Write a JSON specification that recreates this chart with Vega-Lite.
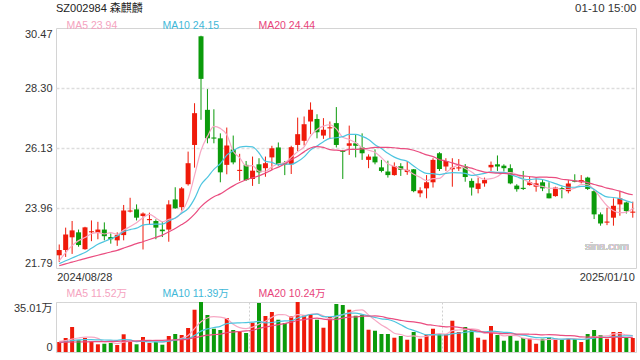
{
"$schema": "https://vega.github.io/schema/vega-lite/v6.json",
"padding": {"left": 12, "top": 2, "right": 4, "bottom": 0},
"background": "white",
"config": {"font": "Liberation Sans, Noto Sans CJK SC", "view": {"stroke": "#d4d4d4"}, "axis": {"labelFont": "Liberation Sans, Noto Sans CJK SC", "labelColor": "#333333", "labelFontSize": 11}},
"title": {"text": "01-10 15:00", "anchor": "end", "offset": -12, "fontSize": 11.5, "fontWeight": "normal", "color": "#333333", "font": "Liberation Sans"},
"resolve": {"scale": {"x": "independent", "y": "independent", "color": "independent"}},
"spacing": 5,
"datasets": {"k": [
{"d":"2024/08/28","o":22.25,"h":22.64,"l":22.01,"c":22.44,"v":7.0,"m5":22.05,"m10":21.95,"m20":21.87,"vm5":7.5,"vm10":6.5,"vm20":6.8},
{"d":"2024/08/29","o":22.44,"h":23.25,"l":22.19,"c":23.00,"v":9.8,"m5":22.35,"m10":22.05,"m20":21.94,"vm5":8.0,"vm10":7.2,"vm20":6.9},
{"d":"2024/08/30","o":22.90,"h":23.49,"l":22.30,"c":23.15,"v":17.5,"m5":22.60,"m10":22.15,"m20":22.00,"vm5":9.0,"vm10":8.0,"vm20":7.0},
{"d":"2024/09/02","o":23.08,"h":23.18,"l":22.56,"c":22.62,"v":8.2,"m5":22.78,"m10":22.25,"m20":22.07,"vm5":9.8,"vm10":8.5,"vm20":7.0},
{"d":"2024/09/03","o":22.47,"h":23.28,"l":22.45,"c":23.26,"v":9.8,"m5":22.89,"m10":22.35,"m20":22.13,"vm5":10.46,"vm10":8.6,"vm20":7.1},
{"d":"2024/09/04","o":23.08,"h":23.51,"l":22.76,"c":23.12,"v":7.0,"m5":23.03,"m10":22.50,"m20":22.19,"vm5":10.46,"vm10":8.6,"vm20":7.2},
{"d":"2024/09/05","o":23.06,"h":23.46,"l":22.83,"c":23.18,"v":5.4,"m5":23.07,"m10":22.65,"m20":22.25,"vm5":9.58,"vm10":8.5,"vm20":7.2},
{"d":"2024/09/06","o":23.18,"h":23.44,"l":22.79,"c":22.94,"v":5.8,"m5":23.02,"m10":22.75,"m20":22.31,"vm5":7.24,"vm10":8.4,"vm20":7.3},
{"d":"2024/09/09","o":22.91,"h":23.04,"l":22.67,"c":22.83,"v":6.3,"m5":23.07,"m10":22.85,"m20":22.37,"vm5":6.86,"vm10":8.3,"vm20":7.4},
{"d":"2024/09/10","o":22.79,"h":23.08,"l":22.59,"c":22.98,"v":4.9,"m5":23.01,"m10":22.95,"m20":22.43,"vm5":5.88,"vm10":8.17,"vm20":7.5},
{"d":"2024/09/11","o":22.98,"h":24.07,"l":22.79,"c":23.87,"v":12.4,"m5":23.16,"m10":23.10,"m20":22.51,"vm5":6.96,"vm10":8.71,"vm20":7.6},
{"d":"2024/09/12","o":23.83,"h":24.33,"l":23.80,"c":23.87,"v":7.5,"m5":23.29,"m10":23.18,"m20":22.59,"vm5":7.38,"vm10":8.48,"vm20":7.7},
{"d":"2024/09/13","o":23.91,"h":24.09,"l":23.51,"c":23.61,"v":5.4,"m5":23.43,"m10":23.23,"m20":22.67,"vm5":7.30,"vm10":7.27,"vm20":7.8},
{"d":"2024/09/18","o":23.67,"h":23.80,"l":22.46,"c":23.76,"v":10.5,"m5":23.61,"m10":23.34,"m20":22.74,"vm5":8.14,"vm10":7.50,"vm20":7.9},
{"d":"2024/09/19","o":23.52,"h":23.79,"l":23.37,"c":23.56,"v":6.3,"m5":23.73,"m10":23.37,"m20":22.82,"vm5":8.42,"vm10":7.15,"vm20":8.0},
{"d":"2024/09/20","o":23.49,"h":23.55,"l":22.83,"c":23.25,"v":7.0,"m5":23.60,"m10":23.38,"m20":22.90,"vm5":7.34,"vm10":7.15,"vm20":8.1},
{"d":"2024/09/23","o":23.18,"h":23.46,"l":22.91,"c":23.12,"v":5.1,"m5":23.46,"m10":23.38,"m20":22.98,"vm5":6.86,"vm10":7.12,"vm20":8.2},
{"d":"2024/09/24","o":23.18,"h":24.24,"l":22.74,"c":24.09,"v":11.2,"m5":23.55,"m10":23.49,"m20":23.10,"vm5":8.02,"vm10":7.66,"vm20":8.3},
{"d":"2024/09/25","o":24.27,"h":24.71,"l":23.93,"c":23.95,"v":12.6,"m5":23.59,"m10":23.60,"m20":23.22,"vm5":8.44,"vm10":8.29,"vm20":8.45},
{"d":"2024/09/26","o":23.99,"h":24.72,"l":23.87,"c":24.67,"v":11.9,"m5":23.82,"m10":23.77,"m20":23.36,"vm5":9.56,"vm10":8.99,"vm20":8.58},
{"d":"2024/09/27","o":24.82,"h":26.00,"l":24.77,"c":25.58,"v":16.8,"m5":24.28,"m10":23.94,"m20":23.52,"vm5":11.52,"vm10":9.43,"vm20":9.07},
{"d":"2024/09/30","o":26.24,"h":27.75,"l":25.42,"c":27.39,"v":29.6,"m5":25.14,"m10":24.30,"m20":23.74,"vm5":16.42,"vm10":11.64,"vm20":10.06},
{"d":"2024/10/08","o":30.17,"h":30.19,"l":27.15,"c":28.63,"v":35.0,"m5":26.04,"m10":24.80,"m20":24.01,"vm5":21.18,"vm10":14.60,"vm20":10.94},
{"d":"2024/10/09","o":27.51,"h":28.26,"l":26.30,"c":26.48,"v":25.9,"m5":26.55,"m10":25.07,"m20":24.21,"vm5":23.84,"vm10":16.14,"vm20":11.82},
{"d":"2024/10/10","o":26.51,"h":27.53,"l":26.30,"c":26.47,"v":16.3,"m5":26.91,"m10":25.36,"m20":24.37,"vm5":24.72,"vm10":17.14,"vm20":12.15},
{"d":"2024/10/11","o":26.48,"h":26.66,"l":24.89,"c":25.25,"v":15.4,"m5":26.84,"m10":25.56,"m20":24.47,"vm5":24.44,"vm10":17.98,"vm20":12.57},
{"d":"2024/10/14","o":25.52,"h":26.87,"l":25.18,"c":26.22,"v":23.8,"m5":26.61,"m10":25.87,"m20":24.62,"vm5":23.28,"vm10":19.85,"vm20":13.49},
{"d":"2024/10/15","o":26.08,"h":26.58,"l":25.54,"c":25.61,"v":15.4,"m5":26.01,"m10":26.03,"m20":24.76,"vm5":19.36,"vm10":20.27,"vm20":13.97},
{"d":"2024/10/16","o":25.30,"h":25.92,"l":24.94,"c":25.34,"v":14.2,"m5":25.78,"m10":26.16,"m20":24.88,"vm5":17.02,"vm10":20.43,"vm20":14.36},
{"d":"2024/10/17","o":25.52,"h":25.66,"l":24.94,"c":24.97,"v":13.3,"m5":25.48,"m10":26.19,"m20":24.98,"vm5":16.42,"vm10":20.57,"vm20":14.78},
{"d":"2024/10/18","o":25.01,"h":25.82,"l":24.76,"c":25.31,"v":20.5,"m5":25.49,"m10":26.17,"m20":25.05,"vm5":17.44,"vm10":20.94,"vm20":15.19},
{"d":"2024/10/21","o":25.54,"h":25.76,"l":24.83,"c":25.25,"v":34.3,"m5":25.29,"m10":25.95,"m20":25.12,"vm5":19.54,"vm10":21.41,"vm20":16.53},
{"d":"2024/10/22","o":25.40,"h":25.82,"l":25.09,"c":25.58,"v":25.2,"m5":25.29,"m10":25.65,"m20":25.22,"vm5":21.50,"vm10":20.43,"vm20":17.52},
{"d":"2024/10/23","o":25.79,"h":26.21,"l":25.34,"c":26.12,"v":28.0,"m5":25.45,"m10":25.61,"m20":25.34,"vm5":24.26,"vm10":20.64,"vm20":18.39},
{"d":"2024/10/24","o":26.15,"h":26.33,"l":25.49,"c":25.54,"v":22.6,"m5":25.56,"m10":25.52,"m20":25.44,"vm5":26.12,"vm10":21.27,"vm20":19.21},
{"d":"2024/10/25","o":25.58,"h":25.66,"l":25.15,"c":25.53,"v":20.3,"m5":25.60,"m10":25.55,"m20":25.55,"vm5":26.08,"vm10":21.76,"vm20":19.87},
{"d":"2024/10/28","o":25.54,"h":26.21,"l":25.19,"c":26.16,"v":25.0,"m5":25.79,"m10":25.54,"m20":25.71,"vm5":24.22,"vm10":21.88,"vm20":20.87},
{"d":"2024/10/29","o":26.24,"h":27.23,"l":26.02,"c":26.63,"v":35.0,"m5":26.00,"m10":25.64,"m20":25.83,"vm5":26.18,"vm10":23.84,"vm20":22.06},
{"d":"2024/10/30","o":26.39,"h":27.27,"l":26.22,"c":26.99,"v":25.7,"m5":26.17,"m10":25.81,"m20":25.99,"vm5":25.72,"vm10":24.99,"vm20":22.71},
{"d":"2024/10/31","o":27.09,"h":27.78,"l":26.63,"c":27.51,"v":26.1,"m5":26.56,"m10":26.06,"m20":26.13,"vm5":26.42,"vm10":26.27,"vm20":23.42},
{"d":"2024/11/01","o":27.18,"h":27.35,"l":26.48,"c":26.70,"v":22.6,"m5":26.80,"m10":26.20,"m20":26.18,"vm5":26.88,"vm10":26.48,"vm20":23.71},
{"d":"2024/11/04","o":26.58,"h":27.21,"l":26.46,"c":26.79,"v":17.0,"m5":26.92,"m10":26.36,"m20":26.15,"vm5":25.28,"vm10":24.75,"vm20":23.08},
{"d":"2024/11/05","o":26.84,"h":27.09,"l":26.48,"c":26.88,"v":24.5,"m5":26.97,"m10":26.48,"m20":26.07,"vm5":23.18,"vm10":24.68,"vm20":22.56},
{"d":"2024/11/06","o":27.03,"h":27.61,"l":26.15,"c":26.24,"v":33.6,"m5":26.82,"m10":26.50,"m20":26.05,"vm5":24.76,"vm10":25.24,"vm20":22.94},
{"d":"2024/11/07","o":26.03,"h":26.06,"l":25.01,"c":25.99,"v":32.9,"m5":26.52,"m10":26.54,"m20":26.03,"vm5":26.12,"vm10":26.27,"vm20":23.77},
{"d":"2024/11/08","o":26.21,"h":26.94,"l":25.88,"c":26.30,"v":29.6,"m5":26.44,"m10":26.62,"m20":26.08,"vm5":27.52,"vm10":27.20,"vm20":24.48},
{"d":"2024/11/11","o":26.30,"h":26.60,"l":25.79,"c":26.21,"v":25.4,"m5":26.32,"m10":26.62,"m20":26.08,"vm5":29.20,"vm10":27.24,"vm20":24.56},
{"d":"2024/11/12","o":26.15,"h":26.66,"l":25.70,"c":25.94,"v":26.1,"m5":26.14,"m10":26.55,"m20":26.10,"vm5":29.52,"vm10":26.35,"vm20":25.10},
{"d":"2024/11/13","o":25.70,"h":25.90,"l":25.40,"c":25.82,"v":15.6,"m5":26.05,"m10":26.44,"m20":26.12,"vm5":25.92,"vm10":25.34,"vm20":25.17},
{"d":"2024/11/14","o":25.82,"h":26.08,"l":25.54,"c":25.61,"v":14.9,"m5":25.98,"m10":26.25,"m20":26.15,"vm5":22.32,"vm10":24.22,"vm20":25.25},
{"d":"2024/11/15","o":25.43,"h":25.70,"l":25.25,"c":25.30,"v":12.6,"m5":25.78,"m10":26.11,"m20":26.15,"vm5":18.92,"vm10":23.22,"vm20":24.85},
{"d":"2024/11/18","o":25.28,"h":25.67,"l":25.06,"c":25.15,"v":12.6,"m5":25.56,"m10":25.94,"m20":26.15,"vm5":16.36,"vm10":22.78,"vm20":23.77},
{"d":"2024/11/19","o":25.15,"h":25.61,"l":25.13,"c":25.48,"v":10.0,"m5":25.47,"m10":25.80,"m20":26.14,"vm5":13.14,"vm10":21.33,"vm20":23.01},
{"d":"2024/11/20","o":25.47,"h":25.58,"l":25.12,"c":25.34,"v":11.2,"m5":25.38,"m10":25.71,"m20":26.11,"vm5":12.26,"vm10":19.09,"vm20":22.17},
{"d":"2024/11/21","o":25.26,"h":25.66,"l":25.16,"c":25.34,"v":8.6,"m5":25.32,"m10":25.65,"m20":26.10,"vm5":11.00,"vm10":16.66,"vm20":21.47},
{"d":"2024/11/22","o":25.36,"h":25.37,"l":24.53,"c":24.57,"v":14.0,"m5":25.18,"m10":25.48,"m20":26.05,"vm5":11.28,"vm10":15.10,"vm20":21.15},
{"d":"2024/11/25","o":24.49,"h":24.71,"l":24.35,"c":24.60,"v":9.3,"m5":25.07,"m10":25.32,"m20":25.97,"vm5":10.62,"vm10":13.49,"vm20":20.37},
{"d":"2024/11/26","o":24.67,"h":25.15,"l":24.31,"c":24.89,"v":12.1,"m5":24.95,"m10":25.21,"m20":25.88,"vm5":11.04,"vm10":12.09,"vm20":19.22},
{"d":"2024/11/27","o":24.89,"h":25.76,"l":24.70,"c":25.70,"v":16.3,"m5":25.02,"m10":25.20,"m20":25.82,"vm5":12.06,"vm10":12.16,"vm20":18.75},
{"d":"2024/11/28","o":25.94,"h":25.98,"l":25.30,"c":25.37,"v":12.4,"m5":25.03,"m10":25.17,"m20":25.71,"vm5":12.82,"vm10":11.91,"vm20":18.07},
{"d":"2024/11/29","o":25.46,"h":25.76,"l":25.30,"c":25.66,"v":12.4,"m5":25.24,"m10":25.21,"m20":25.66,"vm5":12.50,"vm10":11.89,"vm20":17.56},
{"d":"2024/12/02","o":25.36,"h":25.76,"l":24.73,"c":25.42,"v":21.9,"m5":25.41,"m10":25.24,"m20":25.59,"vm5":15.02,"vm10":12.82,"vm20":17.80},
{"d":"2024/12/03","o":25.39,"h":25.73,"l":25.30,"c":25.43,"v":14.0,"m5":25.51,"m10":25.23,"m20":25.52,"vm5":15.40,"vm10":13.22,"vm20":17.28},
{"d":"2024/12/04","o":25.46,"h":25.55,"l":24.91,"c":25.08,"v":17.5,"m5":25.39,"m10":25.21,"m20":25.46,"vm5":15.64,"vm10":13.85,"vm20":16.47},
{"d":"2024/12/05","o":24.94,"h":25.03,"l":24.41,"c":24.70,"v":15.2,"m5":25.26,"m10":25.14,"m20":25.40,"vm5":16.20,"vm10":14.51,"vm20":15.59},
{"d":"2024/12/06","o":24.65,"h":25.06,"l":24.49,"c":24.85,"v":10.0,"m5":25.09,"m10":25.17,"m20":25.32,"vm5":15.72,"vm10":14.11,"vm20":14.61},
{"d":"2024/12/09","o":24.85,"h":25.06,"l":24.73,"c":24.97,"v":8.6,"m5":25.00,"m10":25.21,"m20":25.26,"vm5":13.06,"vm10":14.04,"vm20":13.77},
{"d":"2024/12/10","o":25.43,"h":25.64,"l":25.30,"c":25.52,"v":18.2,"m5":25.02,"m10":25.27,"m20":25.24,"vm5":13.90,"vm10":14.65,"vm20":13.37},
{"d":"2024/12/11","o":25.54,"h":25.86,"l":25.30,"c":25.46,"v":11.9,"m5":25.10,"m10":25.25,"m20":25.22,"vm5":12.78,"vm10":14.21,"vm20":13.19},
{"d":"2024/12/12","o":25.49,"h":25.54,"l":25.28,"c":25.40,"v":7.9,"m5":25.24,"m10":25.25,"m20":25.21,"vm5":11.32,"vm10":13.76,"vm20":12.84},
{"d":"2024/12/13","o":25.40,"h":25.54,"l":24.82,"c":24.85,"v":11.2,"m5":25.24,"m10":25.17,"m20":25.19,"vm5":11.56,"vm10":13.64,"vm20":12.77},
{"d":"2024/12/16","o":24.77,"h":24.82,"l":24.55,"c":24.64,"v":7.9,"m5":25.17,"m10":25.09,"m20":25.16,"vm5":11.42,"vm10":12.24,"vm20":12.53},
{"d":"2024/12/17","o":24.69,"h":25.30,"l":24.61,"c":24.65,"v":9.8,"m5":25.00,"m10":25.01,"m20":25.12,"vm5":9.74,"vm10":11.82,"vm20":12.52},
{"d":"2024/12/18","o":24.79,"h":25.09,"l":24.77,"c":24.89,"v":9.3,"m5":24.89,"m10":24.99,"m20":25.10,"vm5":9.22,"vm10":11.00,"vm20":12.43},
{"d":"2024/12/19","o":24.73,"h":25.03,"l":24.55,"c":24.85,"v":5.8,"m5":24.78,"m10":25.01,"m20":25.07,"vm5":8.80,"vm10":10.06,"vm20":12.29},
{"d":"2024/12/20","o":24.89,"h":24.97,"l":24.57,"c":24.67,"v":9.3,"m5":24.74,"m10":24.99,"m20":25.08,"vm5":8.42,"vm10":9.99,"vm20":12.05},
{"d":"2024/12/23","o":24.49,"h":24.89,"l":24.31,"c":24.31,"v":10.3,"m5":24.67,"m10":24.92,"m20":25.07,"vm5":8.90,"vm10":10.16,"vm20":12.10},
{"d":"2024/12/24","o":24.39,"h":24.73,"l":24.37,"c":24.70,"v":9.3,"m5":24.68,"m10":24.84,"m20":25.06,"vm5":8.80,"vm10":9.27,"vm20":11.96},
{"d":"2024/12/25","o":24.68,"h":24.73,"l":24.31,"c":24.64,"v":9.1,"m5":24.63,"m10":24.76,"m20":25.00,"vm5":8.76,"vm10":8.99,"vm20":11.60},
{"d":"2024/12/26","o":24.57,"h":24.97,"l":24.49,"c":24.85,"v":9.3,"m5":24.63,"m10":24.71,"m20":24.98,"vm5":9.46,"vm10":9.13,"vm20":11.45},
{"d":"2024/12/27","o":24.95,"h":25.18,"l":24.89,"c":24.91,"v":9.1,"m5":24.68,"m10":24.71,"m20":24.94,"vm5":9.42,"vm10":8.92,"vm20":11.28},
{"d":"2024/12/30","o":24.89,"h":25.15,"l":24.85,"c":24.97,"v":7.0,"m5":24.81,"m10":24.74,"m20":24.92,"vm5":8.76,"vm10":8.83,"vm20":10.54},
{"d":"2024/12/31","o":25.06,"h":25.09,"l":24.61,"c":24.65,"v":12.6,"m5":24.80,"m10":24.74,"m20":24.88,"vm5":9.42,"vm10":9.11,"vm20":10.47},
{"d":"2025/01/02","o":24.57,"h":24.65,"l":23.56,"c":23.73,"v":15.4,"m5":24.62,"m10":24.63,"m20":24.81,"vm5":10.68,"vm10":9.72,"vm20":10.36},
{"d":"2025/01/03","o":23.73,"h":23.80,"l":23.32,"c":23.40,"v":11.9,"m5":24.33,"m10":24.48,"m20":24.75,"vm5":11.20,"vm10":10.33,"vm20":10.20},
{"d":"2025/01/06","o":23.43,"h":23.97,"l":23.34,"c":23.47,"v":9.3,"m5":24.04,"m10":24.36,"m20":24.68,"vm5":11.24,"vm10":10.33,"vm20":10.16},
{"d":"2025/01/07","o":23.61,"h":24.31,"l":23.32,"c":24.04,"v":14.0,"m5":23.86,"m10":24.34,"m20":24.63,"vm5":12.64,"vm10":10.70,"vm20":10.43},
{"d":"2025/01/08","o":24.09,"h":24.57,"l":23.68,"c":24.31,"v":14.0,"m5":23.79,"m10":24.30,"m20":24.57,"vm5":12.92,"vm10":11.17,"vm20":10.22},
{"d":"2025/01/09","o":24.16,"h":24.19,"l":23.76,"c":23.85,"v":10.5,"m5":23.81,"m10":24.22,"m20":24.49,"vm5":11.94,"vm10":11.31,"vm20":10.15},
{"d":"2025/01/10","o":23.79,"h":24.19,"l":23.61,"c":23.83,"v":9.8,"m5":23.94,"m10":24.15,"m20":24.44,"vm5":11.52,"vm10":11.39,"vm20":10.24}
]},
"vconcat": [
{
 "width": 580, "height": 240,
 "title": {"text": "SZ002984 森麒麟", "anchor": "start", "frame": "group", "fontSize": 11, "fontWeight": "normal", "color": "#222222", "offset": 7, "font": "Liberation Sans, Noto Sans CJK SC"},
 "data": {"name": "k"},
 "encoding": {"x": {"field": "d", "type": "ordinal", "sort": null, "scale": {"paddingInner": 0, "paddingOuter": 0},
   "axis": {"values": ["2024/08/28", "2025/01/10"], "title": null, "ticks": false, "domain": false, "grid": false, "labelAngle": 0, "labelPadding": 3,
     "labelAlign": {"condition": {"test": "datum.value == '2024/08/28'", "value": "left"}, "value": "right"},
     "labelOffset": {"condition": {"test": "datum.value == '2024/08/28'", "value": -2}, "value": 2}}}},
 "layer": [
  {"mark": {"type": "rule", "strokeWidth": 1},
   "encoding": {
    "y": {"field": "l", "type": "quantitative", "scale": {"domain": [21.79, 30.47], "nice": false, "zero": false},
      "axis": {"values": [21.79, 23.96, 26.13, 28.30, 30.47], "format": ".2f", "labelFlush": true, "ticks": false, "domain": false, "grid": true, "gridDash": [3, 2], "gridColor": "#dddddd", "gridWidth": 1.3, "labelPadding": 4, "title": null,
        "gridOpacity": {"condition": {"test": "datum.value < 21.8 || datum.value > 30.46", "value": 0}, "value": 1}}},
    "y2": {"field": "h"},
    "color": {"condition": {"test": "datum.c >= datum.o", "value": "#ef1a0a"}, "value": "#0b9b0b"}}},
  {"mark": {"type": "bar", "size": 5},
   "encoding": {
    "y": {"field": "o", "type": "quantitative"},
    "y2": {"field": "c"},
    "color": {"condition": {"test": "datum.c >= datum.o", "value": "#ef1a0a"}, "value": "#0b9b0b"}}},
  {"transform": [{"fold": ["m5", "m10", "m20"], "as": ["key", "val"]}],
   "mark": {"type": "line", "strokeWidth": 1.2, "interpolate": "monotone"},
   "encoding": {
    "y": {"field": "val", "type": "quantitative"},
    "color": {"field": "key", "type": "nominal", "scale": {"domain": ["m5", "m10", "m20"], "range": ["#f7a8c4", "#4ec5e0", "#ea4d80"]},
      "legend": {"orient": "none", "legendX": 0, "legendY": -7, "direction": "horizontal", "columns": 3, "gridAlign": "all", "columnPadding": 28, "title": null,
        "symbolSize": 0, "symbolStrokeWidth": 0, "symbolOpacity": 0, "labelOffset": 0, "labelFontSize": 10.5, "labelFont": "Liberation Sans",
        "labelExpr": "datum.value == 'm5' ? 'MA5 23.94' : datum.value == 'm10' ? 'MA10 24.15' : 'MA20 24.44'",
        "labelColor": {"expr": "datum.value == 'm5' ? '#f5a3c0' : datum.value == 'm10' ? '#3fb8d8' : '#e8437a'"}}}}},
  {"mark": {"type": "text", "fontSize": 11, "color": "#cccccc", "align": "center", "font": "Liberation Sans"},
   "encoding": {"x": {"datum": "2025/01/06"}, "y": {"datum": 22.55}, "text": {"value": "sina.com"}}}
 ]
},
{
 "width": 580, "height": 50,
 "data": {"name": "k"},
 "encoding": {"x": {"field": "d", "type": "ordinal", "sort": null, "scale": {"paddingInner": 0, "paddingOuter": 0},
   "axis": {"values": ["2024/10/18", "2024/11/29"], "labels": false, "ticks": false, "domain": false, "grid": true, "gridDash": [2, 2], "gridColor": "#d0d0d0", "bandPosition": 0, "title": null}}},
 "layer": [
  {"mark": {"type": "bar", "size": 4},
   "encoding": {
    "y": {"field": "v", "type": "quantitative", "scale": {"domain": [0, 35.01], "nice": false},
      "axis": {"values": [0, 35.01], "labelExpr": "datum.value == 0 ? '0' : '35.01万'", "labelFlush": true, "ticks": false, "domain": false, "grid": true, "gridDash": [3, 2], "gridColor": "#d6d6d6", "labelPadding": 4, "title": null}},
    "color": {"condition": {"test": "datum.c >= datum.o", "value": "#ef1a0a"}, "value": "#0b9b0b"}}},
  {"transform": [{"fold": ["vm5", "vm10", "vm20"], "as": ["key", "val"]}],
   "mark": {"type": "line", "strokeWidth": 1.2, "interpolate": "monotone"},
   "encoding": {
    "y": {"field": "val", "type": "quantitative"},
    "color": {"field": "key", "type": "nominal", "scale": {"domain": ["vm5", "vm10", "vm20"], "range": ["#f7a8c4", "#4ec5e0", "#ea4d80"]},
      "legend": {"orient": "none", "legendX": 0, "legendY": -13, "direction": "horizontal", "columns": 3, "gridAlign": "all", "columnPadding": 18, "title": null,
        "symbolSize": 0, "symbolStrokeWidth": 0, "symbolOpacity": 0, "labelOffset": 0, "labelFontSize": 10.5, "labelFont": "Liberation Sans, Noto Sans CJK SC",
        "labelExpr": "datum.value == 'vm5' ? 'MA5 11.52万' : datum.value == 'vm10' ? 'MA10 11.39万' : 'MA20 10.24万'",
        "labelColor": {"expr": "datum.value == 'vm5' ? '#f5a3c0' : datum.value == 'vm10' ? '#3fb8d8' : '#e8437a'"}}}}}
 ]
}
]
}
